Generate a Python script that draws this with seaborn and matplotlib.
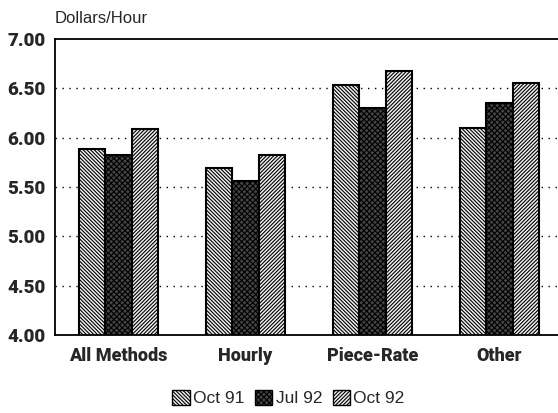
import pandas as pd
import numpy as np
import matplotlib
matplotlib.use('Agg')
import matplotlib.pyplot as plt
import seaborn as sns
from matplotlib.patches import Patch

# data
methods = ['All Methods', 'Hourly', 'Piece-Rate', 'Other']
periods = ['Oct 91', 'Jul 92', 'Oct 92']
oct91 = [5.88, 5.69, 6.53, 6.10]
jul92 = [5.82, 5.56, 6.30, 6.35]
oct92 = [6.09, 5.82, 6.68, 6.55]
y_ticks = [4.00, 4.50, 5.00, 5.50, 6.00, 6.50, 7.00]

df = pd.DataFrame({
    'method': methods * 3,
    'period': [periods[0]] * 4 + [periods[1]] * 4 + [periods[2]] * 4,
    'wage': oct91 + jul92 + oct92,
})

sns.set_style('white')
plt.rcParams['font.family'] = ['Liberation Sans', 'DejaVu Sans']
plt.rcParams['hatch.linewidth'] = 0.8

fig = plt.figure(figsize=(5.58, 4.13), dpi=100)
ax = fig.add_axes([0.0986, 0.1889, 0.9014, 0.7167])

sns.barplot(data=df, x='method', y='wage', hue='period', order=methods,
            hue_order=periods, width=0.62, ax=ax, legend=False,
            edgecolor='black', linewidth=1.5, saturation=1)

# hatch styles per series
styles = [('#f0f0f0', '\\' * 9), ('#444444', 'xxxxxx'), ('#f0f0f0', '/' * 9)]
for cont, (fc, h) in zip(ax.containers, styles):
    for p in cont.patches:
        p.set_facecolor(fc)
        p.set_hatch(h)
        p.set_edgecolor('black')

bold = dict(family=['Roboto', 'Liberation Sans', 'DejaVu Sans'], weight=900)

ax.set_ylim(4.0, 7.0)
ax.set_xlim(-0.5, 3.46)
ax.set_yticks(y_ticks)
ax.set_yticklabels([f'{v:.2f}' for v in y_ticks], fontsize=13.5, **bold)
ax.set_xticks(range(len(methods)))
ax.set_xticklabels(methods, fontsize=13, **bold)
ax.tick_params(axis='y', length=0, pad=7)
ax.tick_params(axis='x', length=0, pad=9)
ax.set_xlabel('')
ax.set_ylabel('')

# dotted gridlines
for v in y_ticks[1:-1]:
    ax.axhline(v, color='black', linestyle=(0, (1, 4)), linewidth=1.0, zorder=0)

ax.spines['right'].set_visible(False)
for s in ['top', 'left', 'bottom']:
    ax.spines[s].set_linewidth(1.3)
    ax.spines[s].set_color('black')

fig.text(0.098, 0.955, 'Dollars/Hour', fontsize=12, ha='left', va='center')

handles = [Patch(facecolor=fc, edgecolor='black', hatch=h, linewidth=1)
           for fc, h in styles]
fig.legend(handles, periods, loc='center', bbox_to_anchor=(0.517, 0.036),
           ncol=3, frameon=False, fontsize=12.5, handlelength=1.0,
           handleheight=1.0, handletextpad=0.2, columnspacing=0.6,
           borderaxespad=0)

fig.savefig('out.png', dpi=100)
